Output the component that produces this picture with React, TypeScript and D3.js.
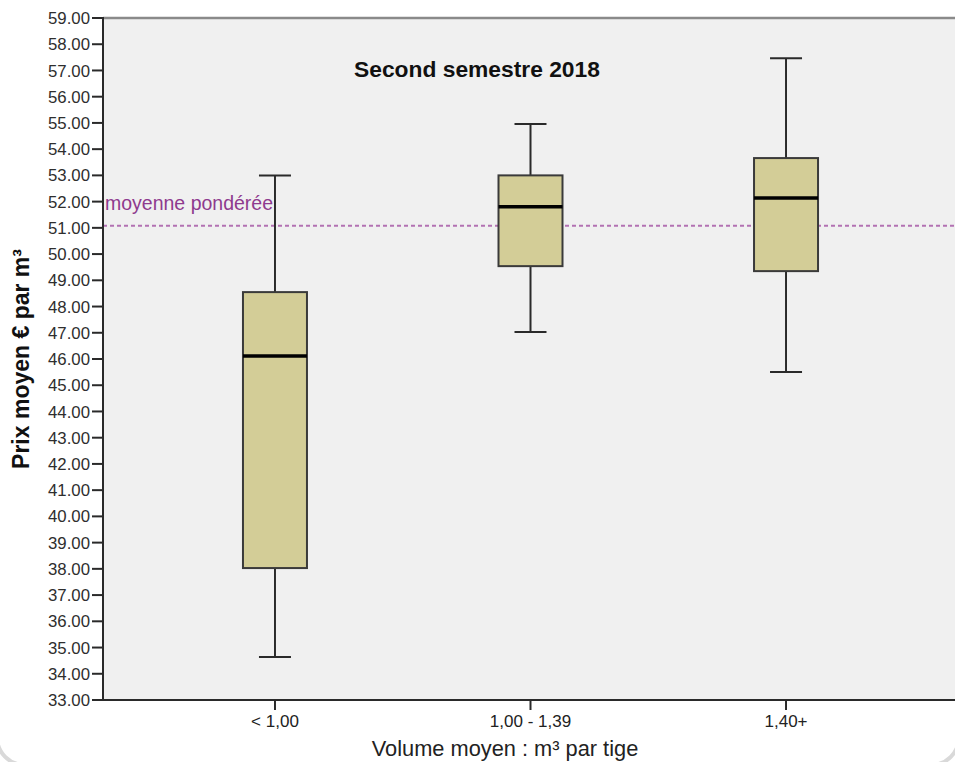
import React from "react";
import * as d3 from "d3";

const categories = ["< 1,00", "1,00 - 1,39", "1,40+"];
const whiskerLow = [34.64, 47.03, 45.5];
const q1 = [38.03, 49.54, 49.35];
const median = [46.11, 51.8, 52.14];
const q3 = [48.55, 53.0, 53.66];
const whiskerHigh = [53.0, 54.96, 57.47];
const yTickValues = d3.range(33, 60, 1);
const weightedMean = 51.08;
const chartTitle = "Second semestre 2018";
const yLabel = "Prix moyen € par m³";
const xLabel = "Volume moyen : m³ par tige";
const meanLabel = "moyenne pondérée";

const W = 955;
const H = 762;
const left = 103;
const right = 958;
const top = 18;
const bottom = 700;
const boxW = 64;
const capW = 32;
const font = "Liberation Sans, Arial, sans-serif";

export default function App() {
  const y = d3.scaleLinear().domain([33, 59]).range([bottom, top]);
  const x = d3.scalePoint<string>().domain(categories).range([left, right]).padding(0.673);

  return (
    <svg
      width={W}
      height={H}
      style={{ position: "absolute", left: 0, top: 0, display: "block", background: "#fff" }}
      fontFamily={font}
    >
      <rect x={left} y={top} width={W - left} height={bottom - top} fill="#f0f0f0" />
      {/* top border */}
      <line x1={left} x2={W} y1={top} y2={top} stroke="#8a8a8a" strokeWidth={2.5} />

      {/* weighted mean line */}
      <line
        x1={left}
        x2={W}
        y1={y(weightedMean)}
        y2={y(weightedMean)}
        stroke="#b271b2"
        strokeWidth={2}
        strokeDasharray="4,3"
      />
      <text x={left + 2} y={y(weightedMean) - 16} fontSize={19.5} fill="#8e3a8e">
        {meanLabel}
      </text>

      {/* boxes */}
      {categories.map((c, i) => {
        const cx = x(c) as number;
        return (
          <g key={c}>
            <line x1={cx} x2={cx} y1={y(whiskerHigh[i])} y2={y(q3[i])} stroke="#2a2a2a" strokeWidth={2} />
            <line x1={cx} x2={cx} y1={y(q1[i])} y2={y(whiskerLow[i])} stroke="#2a2a2a" strokeWidth={2} />
            <line x1={cx - capW / 2} x2={cx + capW / 2} y1={y(whiskerHigh[i])} y2={y(whiskerHigh[i])} stroke="#2a2a2a" strokeWidth={2} />
            <line x1={cx - capW / 2} x2={cx + capW / 2} y1={y(whiskerLow[i])} y2={y(whiskerLow[i])} stroke="#2a2a2a" strokeWidth={2} />
            <rect
              x={cx - boxW / 2}
              y={y(q3[i])}
              width={boxW}
              height={y(q1[i]) - y(q3[i])}
              fill="#d3cd97"
              stroke="#3a3a3a"
              strokeWidth={2}
            />
            <line x1={cx - boxW / 2} x2={cx + boxW / 2} y1={y(median[i])} y2={y(median[i])} stroke="#000" strokeWidth={3.5} />
          </g>
        );
      })}

      {/* y axis */}
      <line x1={left} x2={left} y1={top - 1} y2={bottom + 1} stroke="#2a2a2a" strokeWidth={2} />
      {yTickValues.map((v) => (
        <g key={v}>
          <line x1={left - 11} x2={left} y1={y(v)} y2={y(v)} stroke="#2a2a2a" strokeWidth={2} />
          <text x={left - 13} y={y(v)} dy="0.36em" textAnchor="end" fontSize={16.8} fill="#2e2e2e">
            {v.toFixed(2)}
          </text>
        </g>
      ))}

      {/* x axis */}
      <line x1={left} x2={W} y1={bottom} y2={bottom} stroke="#2a2a2a" strokeWidth={2} />
      {categories.map((c) => (
        <g key={c}>
          <line x1={x(c) as number} x2={x(c) as number} y1={bottom} y2={bottom + 10} stroke="#2a2a2a" strokeWidth={2} />
          <text x={x(c) as number} y={727} textAnchor="middle" fontSize={17} fill="#222">
            {c}
          </text>
        </g>
      ))}

      {/* titles */}
      <text x={477} y={77} textAnchor="middle" fontSize={22.8} fontWeight="bold" fill="#111">
        {chartTitle}
      </text>
      <text
        transform={`translate(29, ${(top + bottom) / 2}) rotate(-90)`}
        textAnchor="middle"
        fontSize={23}
        fontWeight="bold"
        fill="#111"
      >
        {yLabel}
      </text>
      <text x={505} y={756} textAnchor="middle" fontSize={21.8} fill="#222">
        {xLabel}
      </text>

      {/* outer rounded frame (only corners visible) */}
      <rect x={-3} y={-40} width={W + 7} height={H + 43} rx={28} fill="none" stroke="#d9d9d9" strokeWidth={4} />
    </svg>
  );
}
